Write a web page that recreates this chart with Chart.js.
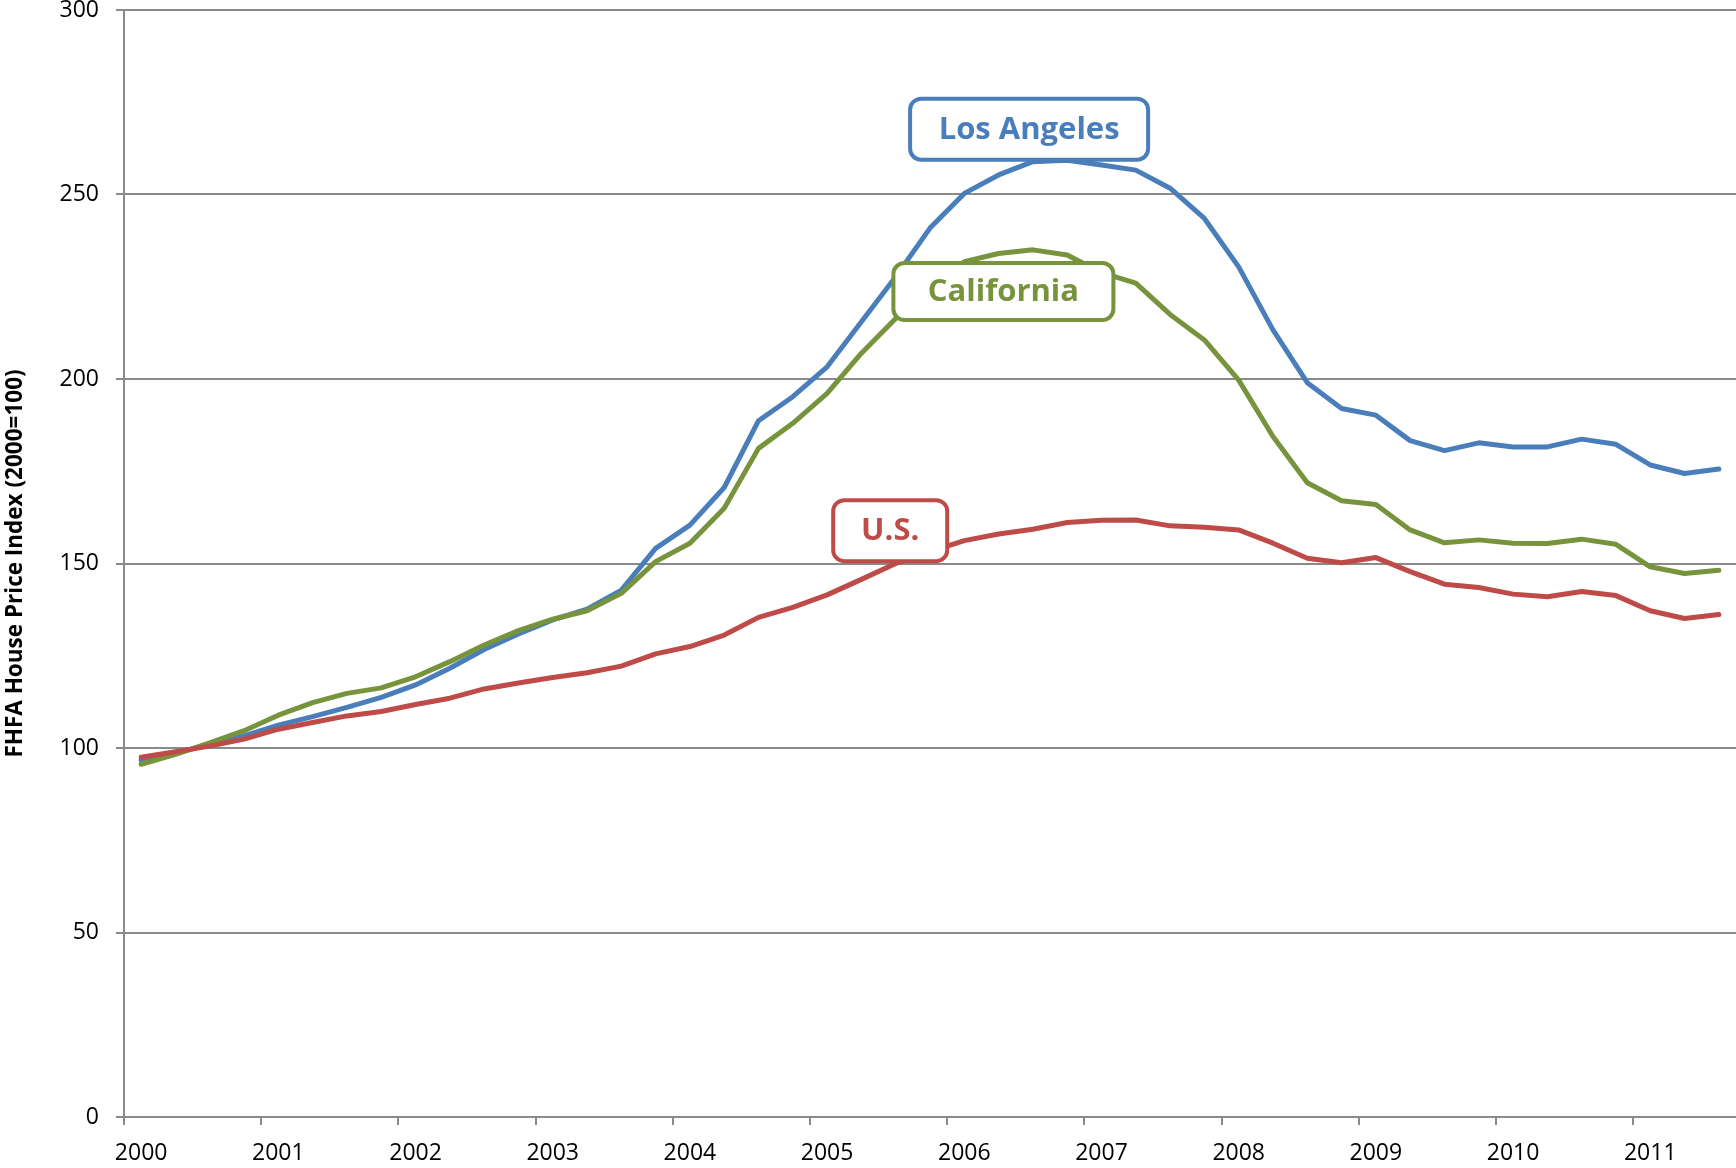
<!DOCTYPE html>
<html>
<head>
<meta charset="utf-8">
<title>FHFA House Price Index</title>
<script src="https://cdn.jsdelivr.net/npm/chart.js@4/dist/chart.umd.min.js"></script>
<style>
  html, body { margin: 0; padding: 0; background: #fff; }
  #wrap { width: 1736px; height: 1168px; }
</style>
</head>
<body>
<div id="wrap"><canvas id="hpiChart" width="1736" height="1168"></canvas></div>
<script>
// quarterly index values, 2000Q1 .. 2011Q3 (2000=100)
const years = ["2000", "2001", "2002", "2003", "2004", "2005", "2006", "2007", "2008", "2009", "2010", "2011"];
const quarters = ["Q1", "Q2", "Q3", "Q4"];

const losAngeles = [96.7, 98.5, 101.1, 103.3, 106.2, 108.5, 111.0, 113.7, 117.1, 121.6, 126.7, 130.9,
  134.7, 137.6, 142.8, 154.1, 160.4, 170.6, 188.7, 195.2, 203.3, 215.5, 227.7, 240.9,
  250.3, 255.3, 258.9, 259.3, 258.0, 256.6, 251.7, 243.5, 230.4, 213.3, 199.0, 192.0,
  190.2, 183.3, 180.6, 182.7, 181.6, 181.6, 183.7, 182.3, 176.7, 174.4, 175.6];

const california = [95.6, 98.3, 101.4, 104.7, 108.9, 112.3, 114.8, 116.3, 119.3, 123.4, 127.9, 131.8,
  134.9, 137.2, 141.9, 150.5, 155.5, 165.0, 181.2, 188.0, 196.1, 207.0, 216.4, 225.0,
  231.8, 234.0, 235.0, 233.6, 228.8, 226.0, 217.5, 210.6, 199.7, 184.4, 171.9, 167.0,
  166.0, 159.1, 155.6, 156.4, 155.5, 155.4, 156.6, 155.2, 149.1, 147.3, 148.2];

const unitedStates = [97.5, 99.0, 100.5, 102.4, 105.1, 106.9, 108.7, 109.9, 111.8, 113.5, 116.0, 117.6,
  119.1, 120.4, 122.2, 125.5, 127.5, 130.6, 135.4, 138.1, 141.5, 145.7, 150.0, 153.2,
  156.2, 158.0, 159.3, 161.1, 161.7, 161.8, 160.2, 159.8, 159.1, 155.5, 151.4, 150.2,
  151.6, 147.8, 144.4, 143.5, 141.7, 141.0, 142.4, 141.3, 137.2, 135.1, 136.2];

const yTicks = [0, 50, 100, 150, 200, 250, 300];

// labels like "2000 Q1"
const labels = [];
years.forEach((y) => quarters.forEach((q) => labels.push(y + " " + q)));
labels.length = losAngeles.length;

const BLUE = "#4A7EBB";
const RED = "#BE4B48";
const GREEN = "#77933C";
const AXIS = "#8a8a8a";
const FONT = "'Open Sans', 'DejaVu Sans', sans-serif";

// boxed series names, anchored in data space (category index, index value)
const callouts = [
  { text: "Los Angeles", at: 25.89, value: 267.7, w: 238, h: 61, color: BLUE },
  { text: "California", at: 25.14, value: 223.7, w: 220, h: 57, color: GREEN },
  { text: "U.S.", at: 21.84, value: 158.9, w: 114, h: 61, color: RED },
];

const calloutPlugin = {
  id: "callouts",
  afterDatasetsDraw(chart) {
    const { ctx, scales } = chart;
    ctx.save();
    callouts.forEach((c) => {
      const cx = scales.x.getPixelForValue(c.at);
      const cy = scales.y.getPixelForValue(c.value);
      ctx.beginPath();
      ctx.roundRect(cx - c.w / 2, cy - c.h / 2, c.w, c.h, 11);
      ctx.fillStyle = "#fff";
      ctx.fill();
      ctx.lineWidth = 4;
      ctx.strokeStyle = c.color;
      ctx.stroke();
      ctx.fillStyle = c.color;
      ctx.font = "bold 31px " + FONT;
      ctx.textAlign = "center";
      ctx.textBaseline = "middle";
      ctx.fillText(c.text, cx, cy + 1);
    });
    ctx.restore();
  },
};

const series = (label, data, color) => ({
  label: label,
  data: data,
  borderColor: color,
  backgroundColor: color,
  borderWidth: 5,
  borderJoinStyle: "round",
  borderCapStyle: "round",
  pointRadius: 0,
  tension: 0,
  fill: false,
});

new Chart(document.getElementById("hpiChart"), {
  type: "line",
  data: {
    labels: labels,
    datasets: [
      series("U.S.", unitedStates, RED),
      series("California", california, GREEN),
      series("Los Angeles", losAngeles, BLUE),
    ],
  },
  options: {
    responsive: false,
    animation: false,
    layout: { padding: 0 },
    plugins: {
      legend: { display: false },
      tooltip: { enabled: false },
    },
    scales: {
      x: {
        type: "category",
        offset: true,
        grid: {
          offset: true,
          drawOnChartArea: false,
          drawTicks: true,
          tickLength: 8,
          lineWidth: 2,
          color: (c) => (c.index !== undefined && c.index % 4 === 0 ? AXIS : "rgba(0,0,0,0)"),
        },
        border: { color: AXIS, width: 2 },
        ticks: {
          autoSkip: false,
          maxRotation: 0,
          padding: 15,
          color: "#000",
          font: { family: FONT, size: 23 },
          callback: (v, i) => (i % 4 === 0 ? years[i / 4] : ""),
        },
        afterFit: (s) => { s.height = 51; },
      },
      y: {
        min: 0,
        max: 300,
        afterBuildTicks: (s) => { s.ticks = yTicks.map((v) => ({ value: v })); },
        grid: { color: AXIS, lineWidth: 2, tickLength: 8 },
        border: { color: AXIS, width: 2 },
        ticks: {
          padding: 17,
          color: "#000",
          font: { family: FONT, size: 23 },
        },
        title: {
          display: true,
          text: "FHFA House Price Index (2000=100)",
          color: "#000",
          font: { family: FONT, size: 22.5, weight: "bold" },
          padding: { top: 2, bottom: 0 },
        },
        afterFit: (s) => {
          s.width = 124;
          s.paddingTop = 10;
          s.paddingBottom = 0;
        },
      },
    },
  },
  plugins: [calloutPlugin],
});
</script>
</body>
</html>
